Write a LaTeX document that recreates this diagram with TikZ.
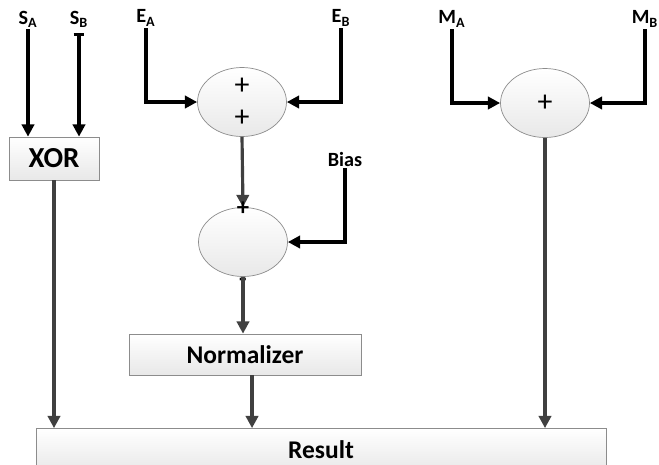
\documentclass[tikz,border=0pt]{standalone}
\usepackage{fontspec}
\setmainfont{Carlito}
\usetikzlibrary{arrows.meta,shapes.geometric}

\tikzset{
	adder/.style={ellipse, draw=black!45, top color=white, bottom color=black!9, minimum width=1.78cm, minimum height=1.38cm, inner sep=0pt, font=\fontsize{17}{18}\selectfont, align=center},
	blockbox/.style={draw=black!45, top color=white, bottom color=black!9, inner sep=0pt, font=\bfseries\fontsize{14.5}{16}\selectfont},
	lbl/.style={font=\bfseries\fontsize{11.5}{12}\selectfont, inner sep=1pt},
	inarrow/.style={black, line width=1.8pt, -{Triangle[length=7pt,width=7pt]}},
	midarrow/.style={black!75, line width=1.8pt, -{Triangle[length=7pt,width=7pt]}},
}

\begin{document}
\begin{tikzpicture}[x=0.02cm, y=-0.02cm]
	\clip (0,0) rectangle (659,464);
	
	% Blocks
	\node[blockbox, minimum width=1.8cm, minimum height=0.86cm, font=\bfseries\fontsize{16.5}{17}\selectfont] (xor) at (54,158.5) {XOR};
	\node[blockbox, minimum width=4.64cm, minimum height=0.82cm] (norm) at (245,354.5) {Normalizer};
	\node[blockbox, minimum width=11.4cm, minimum height=0.86cm] (result) at (321,450) {Result};
	
	% Adders
	\node[adder] (add1) at (242,102) {+\\[0pt]+};
	\node[adder] (add2) at (243,242) {};
	\node[adder] (add3) at (545,103) {+};
	
	% Inputs
	\node[lbl] (sa) at (28,19) {S\textsubscript{A}};
	\node[lbl] (sb) at (79,19) {S\textsubscript{B}};
	\node[lbl] (ea) at (146,18) {E\textsubscript{A}};
	\node[lbl] (eb) at (341,18) {E\textsubscript{B}};
	\node[lbl] (ma) at (452,19) {M\textsubscript{A}};
	\node[lbl] (mb) at (645,19) {M\textsubscript{B}};
	\node[lbl] (bias) at (345,159) {Bias};
	
	% Sign
	\draw[inarrow] (sa.south) -- (sa.south |- xor.north);
	\draw[inarrow, {Bar[width=6pt]}-{Triangle[length=7pt,width=7pt]}] ([yshift=-2pt]sb.south) -- (sb.south |- xor.north);
	\draw[midarrow] (xor.south) -- (xor.south |- result.north);
	
	% Exponent
	\draw[inarrow] (ea.south) |- (add1.west);
	\draw[inarrow] (eb.south) |- (add1.east);
	\draw[midarrow] (add1.south) -- (add2.north);
	\draw[inarrow] (bias.south) |- (add2.east);
	\node[font=\bfseries\fontsize{14}{15}\selectfont, inner sep=0pt] (plus) at ([yshift=-1pt]add2.north) {+};
	\node[font=\bfseries\fontsize{14}{15}\selectfont, inner sep=0pt] (minus) at ([yshift=-3pt]add2.south) {-};
	\draw[midarrow] (add2.south) -- (add2.south |- norm.north);
	\draw[midarrow] ([xshift=4pt]norm.south) -- ([xshift=4pt]norm.south |- result.north);
	
	% Mantissa
	\draw[inarrow] (ma.south) |- (add3.west);
	\draw[inarrow] (mb.south) |- (add3.east);
	\draw[midarrow] (add3.south) -- (add3.south |- result.north);
\end{tikzpicture}
\end{document}
